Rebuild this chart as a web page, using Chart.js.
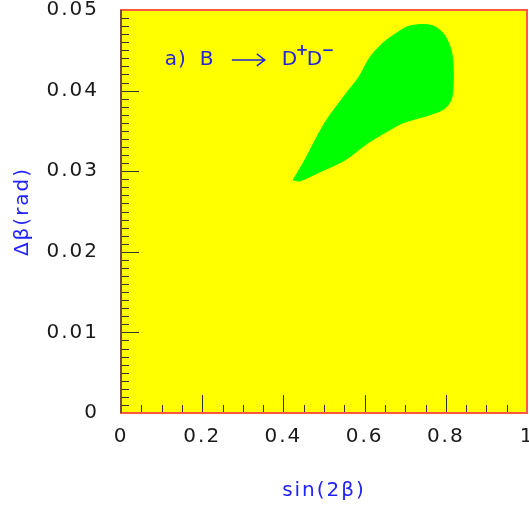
<!DOCTYPE html>
<html>
<head>
<meta charset="utf-8">
<script src="https://cdn.jsdelivr.net/npm/chart.js@4/dist/chart.umd.min.js"></script>
<style>
html, body { margin: 0; padding: 0; background: #fff; }
</style>
</head>
<body>
<canvas id="myChart" width="529" height="511"></canvas>
<script>
// outline of the allowed region (sin2b, delta beta)
let blobX = [0.424, 0.453, 0.502, 0.557, 0.585, 0.613, 0.645, 0.675, 0.704, 0.740, 0.770, 0.795, 0.812, 0.818, 0.815, 0.798, 0.761, 0.700, 0.675, 0.608, 0.552, 0.485, 0.441, 0.424]
let blobY = [0.0289, 0.0314, 0.0360, 0.0398, 0.0416, 0.0441, 0.0459, 0.0470, 0.0479, 0.0482, 0.0480, 0.0470, 0.0452, 0.0430, 0.0392, 0.0378, 0.0370, 0.0361, 0.0355, 0.0335, 0.0314, 0.0298, 0.0288, 0.0289]

let xTicks = [0, 0.2, 0.4, 0.6, 0.8, 1]
let xTickLabels = ["0", "0.2", "0.4", "0.6", "0.8", "1"]
let yTicks = [0, 0.01, 0.02, 0.03, 0.04, 0.05]
let yTickLabels = ["0", "0.01", "0.02", "0.03", "0.04", "0.05"]

Chart.defaults.font.family = "'DejaVu Sans', sans-serif"

// yellow pad, inner tick marks, frame and the label
let rootPad = {
    id: 'rootPad',
    beforeDraw(chart) {
        chart.ctx.letterSpacing = '2px'
    },
    beforeDatasetsDraw(chart) {
        let ctx = chart.ctx, a = chart.chartArea
        ctx.save()
        ctx.fillStyle = '#ffff00'
        ctx.fillRect(a.left, a.top, a.right - a.left, a.bottom - a.top)
        ctx.restore()
    },
    afterDatasetsDraw(chart) {
        let ctx = chart.ctx, a = chart.chartArea
        let xs = chart.scales.x, ys = chart.scales.y
        ctx.save()
        ctx.strokeStyle = '#333'
        ctx.lineWidth = 1
        ctx.beginPath()
        for (let i = 0; i <= 20; i++) {
            let px = Math.round(xs.getPixelForValue(i * 0.05)) + 0.5
            let len = (i % 4 == 0) ? 18 : 8
            ctx.moveTo(px, a.bottom)
            ctx.lineTo(px, a.bottom - len)
        }
        for (let i = 0; i <= 50; i++) {
            let py = Math.round(ys.getPixelForValue(i * 0.001)) + 0.5
            let len = (i % 10 == 0) ? 18 : 8
            ctx.moveTo(a.left, py)
            ctx.lineTo(a.left + len, py)
        }
        ctx.stroke()

        // frame
        ctx.strokeStyle = '#ff5a3c'
        ctx.lineWidth = 2
        ctx.strokeRect(a.left, a.top, a.right - a.left, a.bottom - a.top)
        ctx.strokeStyle = '#444'
        ctx.lineWidth = 1.5
        ctx.beginPath()
        ctx.moveTo(a.left, a.top)
        ctx.lineTo(a.left, a.bottom)
        ctx.stroke()

        // a) B -> D+D-
        let x0 = xs.getPixelForValue(0.108), y0 = ys.getPixelForValue(0.0438)
        ctx.fillStyle = '#2424d8'
        ctx.strokeStyle = '#2424d8'
        ctx.letterSpacing = '1px'
        ctx.font = "20px 'DejaVu Sans'"
        ctx.textBaseline = 'middle'
        ctx.textAlign = 'left'
        ctx.fillText('a)', x0, y0)
        ctx.fillText('B', x0 + 35, y0)
        ctx.lineWidth = 1.5
        ctx.beginPath()
        ctx.moveTo(x0 + 67, y0)
        ctx.lineTo(x0 + 100, y0)
        ctx.moveTo(x0 + 92, y0 - 6)
        ctx.lineTo(x0 + 100, y0)
        ctx.lineTo(x0 + 92, y0 + 6)
        ctx.stroke()
        ctx.fillText('D', x0 + 117, y0)
        ctx.fillText('D', x0 + 142, y0)
        ctx.font = "bold 15px 'DejaVu Sans'"
        ctx.fillText('+', x0 + 131, y0 - 9)
        ctx.fillText('\u2212', x0 + 157, y0 - 9)
        ctx.restore()
    }
}

let mychart = document.getElementById('myChart').getContext('2d')
let chart = new Chart(mychart, {
    type: 'line',
    data: {
        datasets: [{
            data: blobX.map((x, i) => ({ x: x, y: blobY[i] })),
            borderColor: '#00ff00',
            backgroundColor: '#00ff00',
            borderWidth: 1,
            pointRadius: 0,
            fill: 'shape',
            tension: 0.3
        }]
    },
    options: {
        responsive: false,
        animation: false,
        devicePixelRatio: 1,
        layout: { padding: { left: 0, right: 2, top: 10, bottom: 0 } },
        plugins: { legend: { display: false }, tooltip: { enabled: false } },
        scales: {
            x: {
                type: 'linear', min: 0, max: 1,
                grid: { display: false, drawTicks: false },
                border: { display: false },
                afterBuildTicks: s => { s.ticks = xTicks.map(v => ({ value: v })) },
                afterFit: s => { s.height = 98; s.paddingLeft = 0; s.paddingRight = 0 },
                ticks: {
                    color: '#1a1a1a', font: { size: 20 }, padding: 12, maxRotation: 0, autoSkip: false,
                    callback: (v, i) => xTickLabels[i]
                },
                title: {
                    display: true, text: 'sin(2\u03b2)', color: '#2222ff',
                    font: { size: 20 }, padding: { top: 0, bottom: 8 }
                }
            },
            y: {
                type: 'linear', min: 0, max: 0.05,
                grid: { display: false, drawTicks: false },
                border: { display: false },
                afterBuildTicks: s => { s.ticks = yTicks.map(v => ({ value: v })) },
                afterFit: s => { s.width = 121; s.paddingTop = 0; s.paddingBottom = 0 },
                ticks: {
                    color: '#1a1a1a', font: { size: 20 }, padding: 22, autoSkip: false,
                    callback: (v, i) => yTickLabels[i]
                },
                title: {
                    display: true, text: '\u0394\u03b2(rad)', color: '#2222ff',
                    font: { size: 20 }, padding: { top: 11, bottom: 0 }
                }
            }
        }
    },
    plugins: [rootPad]
})
</script>
</body>
</html>
